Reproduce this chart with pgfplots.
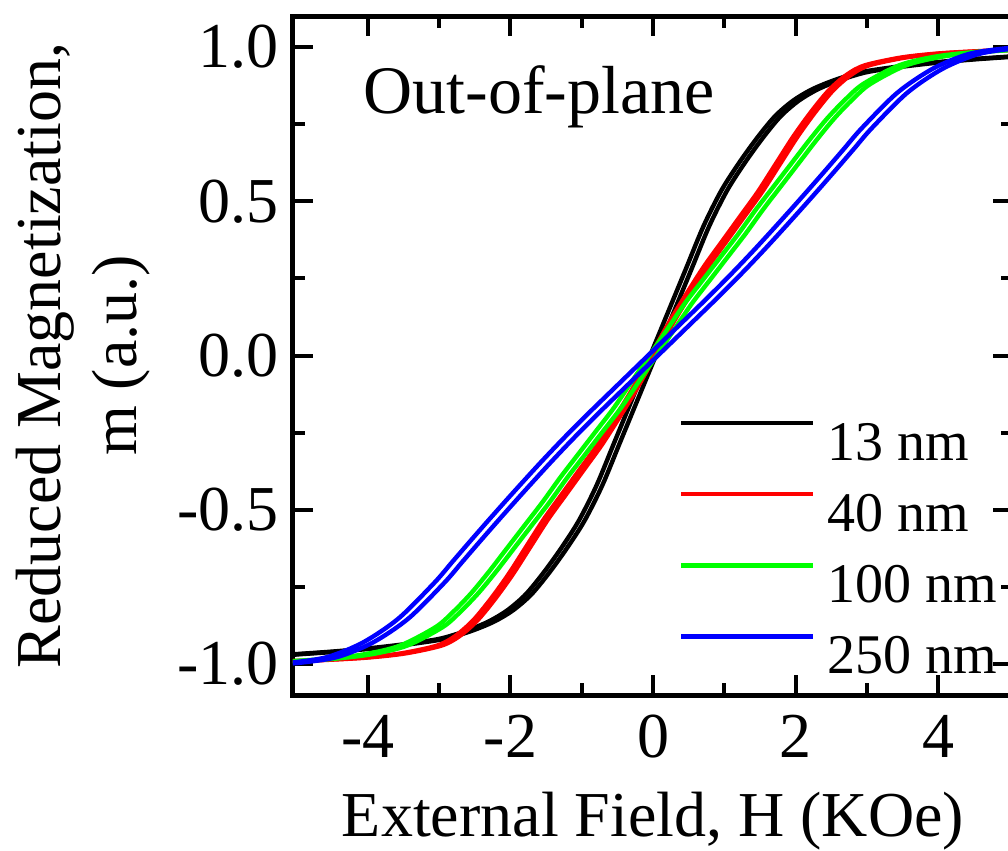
\documentclass[border=0pt]{standalone}
\usepackage{fontspec}
\setmainfont{Liberation Serif}
\usepackage{pgfplots}
\pgfplotsset{compat=1.18}

\definecolor{cgreen}{rgb}{0,1,0}

\begin{document}
\begin{tikzpicture}
\begin{axis}[
    scale only axis,
    width=180pt, height=169.75pt,
    xmin=-5.05, xmax=5.05, ymin=-1.1, ymax=1.1,
    xtick={-4,-2,0,2,4},
    minor xtick={-3,-1,1,3},
    ytick={-1,-0.5,0,0.5,1},
    minor ytick={-0.75,-0.25,0.25,0.75},
    /pgf/number format/assume math mode=true,
    yticklabel style={/pgf/number format/.cd, fixed, fixed zerofill, precision=1},
    tick label style={font=\fontsize{16}{19}\selectfont},
    xticklabel style={yshift=-1.5pt},
    tick align=inside,
    major tick length=5pt, minor tick length=3pt,
    every tick/.style={black, line width=1pt},
    axis line style={line width=1.25pt},
    xlabel={External Field, H (KOe)},
    ylabel={Reduced Magnetization,\\m (a.u.)},
    label style={font=\fontsize{16}{19}\selectfont},
    xlabel style={at={(axis description cs:0.5,0)}, anchor=north, yshift=-24pt, inner sep=0pt},
    ylabel style={at={(axis description cs:-0.386,0.5)}, anchor=north, inner sep=0pt, align=center},
    legend style={draw=none, fill=none, at={(axis description cs:0.535,0.405)}, anchor=north west,
        inner sep=0pt, row sep=8pt, column sep=3pt,
        font=\fontsize{14}{17}\selectfont,
        nodes={inner sep=0pt, text height=9.5pt, text depth=0pt}},
    legend cell align=left,
    legend image code/.code={\draw[#1] (0pt,4.5pt) -- (33pt,4.5pt);},
    every axis plot/.append style={line width=1.1pt, smooth},
]
% 13 nm
\addplot[black] coordinates {
(5.16,0.972) (4.96,0.968) (4.46,0.96) (3.96,0.95) (3.46,0.937) (2.96,0.92) (2.71,0.905) (2.46,0.885) (2.21,0.86) (1.96,0.825) (1.71,0.775) (1.46,0.705) (1.21,0.625) (0.96,0.535) (0.71,0.42) (0.46,0.28) (0.21,0.14) (-0.04,0) (-0.29,-0.14) (-0.54,-0.28) (-0.79,-0.42) (-1.04,-0.535) (-1.29,-0.625) (-1.54,-0.705) (-1.79,-0.775) (-2.04,-0.825) (-2.29,-0.86) (-2.54,-0.885) (-2.79,-0.905) (-3.04,-0.92) (-3.54,-0.937) (-4.04,-0.95) (-4.54,-0.96) (-5.04,-0.968) (-5.24,-0.972)
};
\addlegendentry{13 nm}
\addplot[black, forget plot] coordinates {
(-5.16,-0.972) (-4.96,-0.968) (-4.46,-0.96) (-3.96,-0.95) (-3.46,-0.937) (-2.96,-0.92) (-2.71,-0.905) (-2.46,-0.885) (-2.21,-0.86) (-1.96,-0.825) (-1.71,-0.775) (-1.46,-0.705) (-1.21,-0.625) (-0.96,-0.535) (-0.71,-0.42) (-0.46,-0.28) (-0.21,-0.14) (0.04,0) (0.29,0.14) (0.54,0.28) (0.79,0.42) (1.04,0.535) (1.29,0.625) (1.54,0.705) (1.79,0.775) (2.04,0.825) (2.29,0.86) (2.54,0.885) (2.79,0.905) (3.04,0.92) (3.54,0.937) (4.04,0.95) (4.54,0.96) (5.04,0.968) (5.24,0.972)
};
% 40 nm
\addplot[red] coordinates {
(5.17,0.99) (4.97,0.99) (4.47,0.985) (3.97,0.978) (3.47,0.965) (2.97,0.94) (2.72,0.91) (2.47,0.86) (2.22,0.79) (1.97,0.71) (1.72,0.62) (1.47,0.53) (1.22,0.45) (0.97,0.37) (0.72,0.29) (0.47,0.2) (0.22,0.105) (-0.03,0) (-0.28,-0.105) (-0.53,-0.2) (-0.78,-0.29) (-1.03,-0.37) (-1.28,-0.45) (-1.53,-0.53) (-1.78,-0.62) (-2.03,-0.71) (-2.28,-0.79) (-2.53,-0.86) (-2.78,-0.91) (-3.03,-0.94) (-3.53,-0.965) (-4.03,-0.978) (-4.53,-0.985) (-5.03,-0.99) (-5.23,-0.99)
};
\addlegendentry{40 nm}
\addplot[red, forget plot] coordinates {
(-5.17,-0.99) (-4.97,-0.99) (-4.47,-0.985) (-3.97,-0.978) (-3.47,-0.965) (-2.97,-0.94) (-2.72,-0.91) (-2.47,-0.86) (-2.22,-0.79) (-1.97,-0.71) (-1.72,-0.62) (-1.47,-0.53) (-1.22,-0.45) (-0.97,-0.37) (-0.72,-0.29) (-0.47,-0.2) (-0.22,-0.105) (0.03,0) (0.28,0.105) (0.53,0.2) (0.78,0.29) (1.03,0.37) (1.28,0.45) (1.53,0.53) (1.78,0.62) (2.03,0.71) (2.28,0.79) (2.53,0.86) (2.78,0.91) (3.03,0.94) (3.53,0.965) (4.03,0.978) (4.53,0.985) (5.03,0.99) (5.23,0.99)
};
% 100 nm
\addplot[cgreen] coordinates {
(5.15,0.99) (4.95,0.99) (4.45,0.982) (3.95,0.968) (3.45,0.94) (2.95,0.88) (2.7,0.83) (2.45,0.77) (2.2,0.70) (1.95,0.625) (1.7,0.55) (1.45,0.475) (1.2,0.395) (0.95,0.32) (0.7,0.245) (0.45,0.17) (0.2,0.085) (-0.05,0) (-0.3,-0.085) (-0.55,-0.17) (-0.8,-0.245) (-1.05,-0.32) (-1.3,-0.395) (-1.55,-0.475) (-1.8,-0.55) (-2.05,-0.625) (-2.3,-0.70) (-2.55,-0.77) (-2.8,-0.83) (-3.05,-0.88) (-3.55,-0.94) (-4.05,-0.968) (-4.55,-0.982) (-5.05,-0.99) (-5.25,-0.99)
};
\addlegendentry{100 nm}
\addplot[cgreen, forget plot] coordinates {
(-5.15,-0.99) (-4.95,-0.99) (-4.45,-0.982) (-3.95,-0.968) (-3.45,-0.94) (-2.95,-0.88) (-2.7,-0.83) (-2.45,-0.77) (-2.2,-0.70) (-1.95,-0.625) (-1.7,-0.55) (-1.45,-0.475) (-1.2,-0.395) (-0.95,-0.32) (-0.7,-0.245) (-0.45,-0.17) (-0.2,-0.085) (0.05,0) (0.3,0.085) (0.55,0.17) (0.8,0.245) (1.05,0.32) (1.3,0.395) (1.55,0.475) (1.8,0.55) (2.05,0.625) (2.3,0.70) (2.55,0.77) (2.8,0.83) (3.05,0.88) (3.55,0.94) (4.05,0.968) (4.55,0.982) (5.05,0.99) (5.25,0.99)
};
% 250 nm
\addplot[blue] coordinates {
(5.13,0.998) (4.93,0.995) (4.43,0.977) (3.93,0.93) (3.43,0.852) (2.93,0.737) (2.68,0.67) (2.43,0.603) (2.18,0.537) (1.93,0.472) (1.68,0.408) (1.43,0.345) (1.18,0.284) (0.93,0.225) (0.68,0.168) (0.43,0.112) (0.18,0.056) (-0.07,0) (-0.32,-0.056) (-0.57,-0.112) (-0.82,-0.168) (-1.07,-0.225) (-1.32,-0.284) (-1.57,-0.345) (-1.82,-0.408) (-2.07,-0.472) (-2.32,-0.537) (-2.57,-0.603) (-2.82,-0.67) (-3.07,-0.737) (-3.57,-0.852) (-4.07,-0.93) (-4.57,-0.977) (-5.07,-0.995) (-5.27,-0.998)
};
\addlegendentry{250 nm}
\addplot[blue, forget plot] coordinates {
(-5.13,-0.998) (-4.93,-0.995) (-4.43,-0.977) (-3.93,-0.93) (-3.43,-0.852) (-2.93,-0.737) (-2.68,-0.67) (-2.43,-0.603) (-2.18,-0.537) (-1.93,-0.472) (-1.68,-0.408) (-1.43,-0.345) (-1.18,-0.284) (-0.93,-0.225) (-0.68,-0.168) (-0.43,-0.112) (-0.18,-0.056) (0.07,0) (0.32,0.056) (0.57,0.112) (0.82,0.168) (1.07,0.225) (1.32,0.284) (1.57,0.345) (1.82,0.408) (2.07,0.472) (2.32,0.537) (2.57,0.603) (2.82,0.67) (3.07,0.737) (3.57,0.852) (4.07,0.93) (4.57,0.977) (5.07,0.995) (5.27,0.998)
};
\node[anchor=base west, inner sep=0pt, font=\fontsize{17}{20}\selectfont] at (rel axis cs:0.097,0.857) {Out-of-plane};
\end{axis}
\pgfresetboundingbox
\path[use as bounding box] (-73.25pt,-38.75pt) rectangle (178.75pt,173.75pt);
\end{tikzpicture}
\end{document}
